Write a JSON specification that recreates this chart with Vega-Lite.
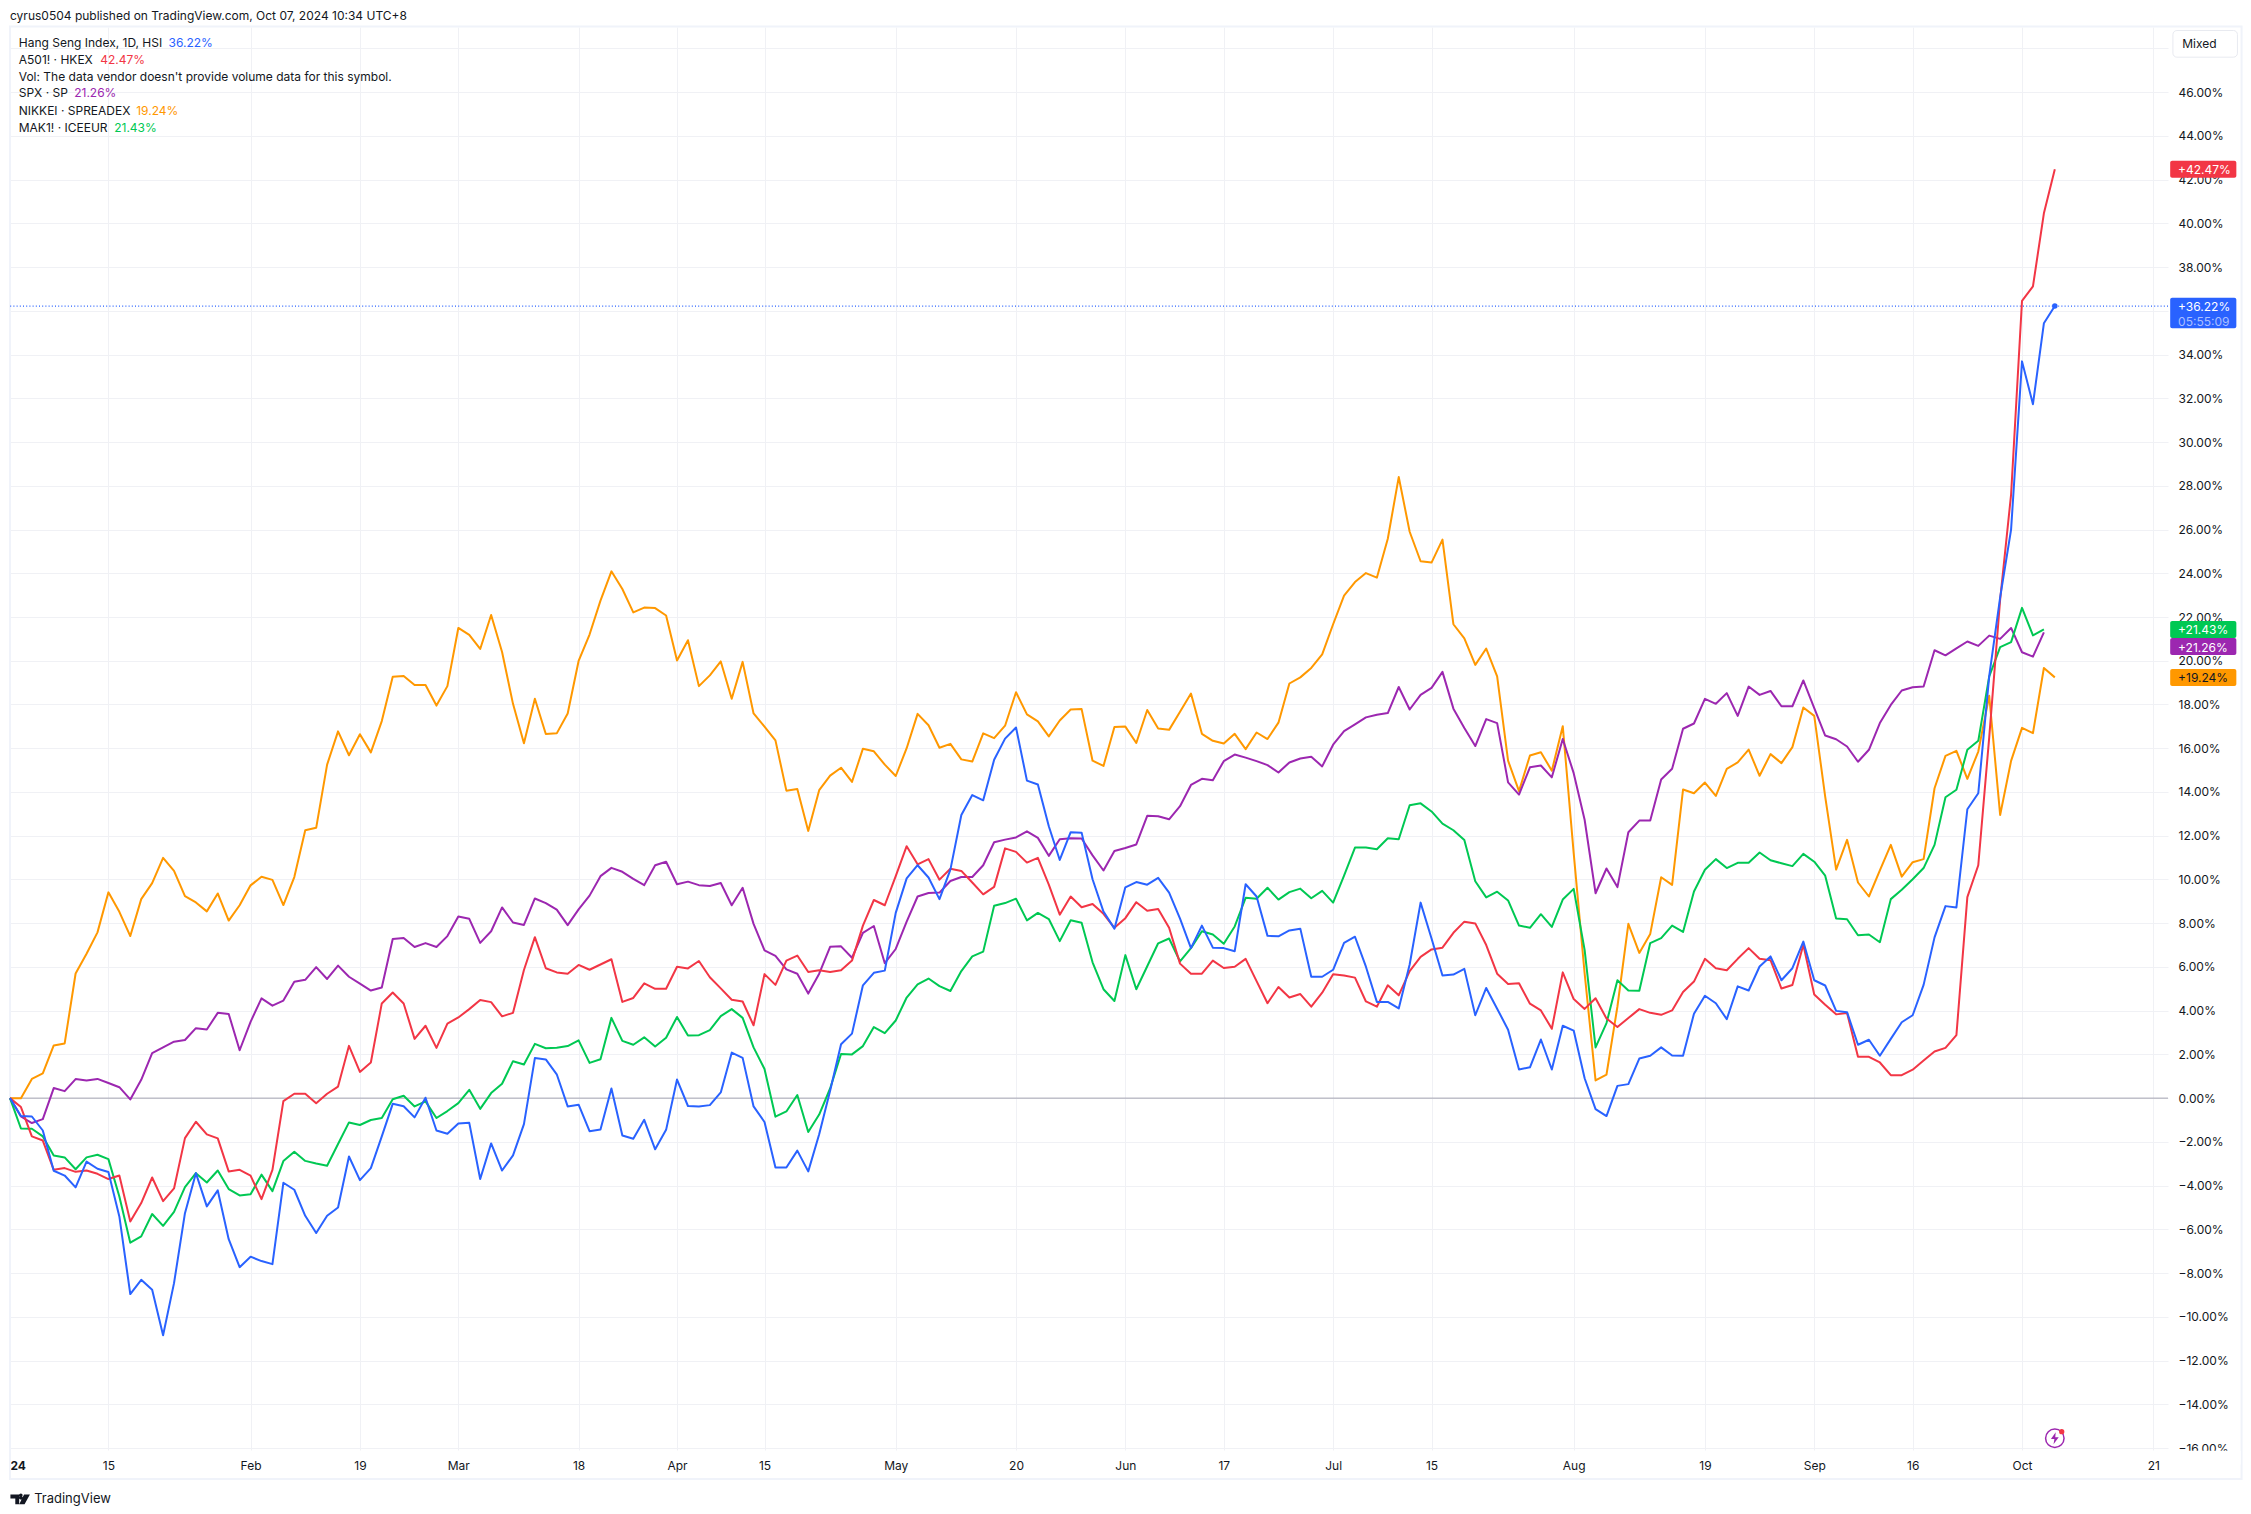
{
  "$schema": "https://vega.github.io/schema/vega-lite/v6.json",
  "autosize": {"type": "none", "contains": "content"},
  "padding": {"left": 10, "top": 27, "right": 83, "bottom": 64},
  "width": 2158,
  "height": 1423,
  "background": "white",
  "data": {"values": [{}]},
  "config": {
    "font": "Inter",
    "view": {"stroke": null},
    "text": {"font": "Inter", "fontSize": 12, "color": "#131722", "align": "left", "baseline": "middle"},
    "axis": {"title": null}
  },
  "datasets": {
    "closes": [
      {"bar":0,"HSI":0,"A501!":0,"SPX":0,"NIKKEI":0,"MAK1!":0},
      {"bar":1,"HSI":-0.82,"A501!":-0.41,"SPX":-0.84,"NIKKEI":0,"MAK1!":-1.39},
      {"bar":2,"HSI":-0.84,"A501!":-1.75,"SPX":-1.14,"NIKKEI":0.88,"MAK1!":-1.4},
      {"bar":3,"HSI":-1.48,"A501!":-1.94,"SPX":-0.96,"NIKKEI":1.13,"MAK1!":-1.75},
      {"bar":4,"HSI":-3.32,"A501!":-3.28,"SPX":0.46,"NIKKEI":2.41,"MAK1!":-2.62},
      {"bar":5,"HSI":-3.54,"A501!":-3.2,"SPX":0.32,"NIKKEI":2.5,"MAK1!":-2.71},
      {"bar":6,"HSI":-4.08,"A501!":-3.37,"SPX":0.87,"NIKKEI":5.7,"MAK1!":-3.25},
      {"bar":7,"HSI":-2.9,"A501!":-3.31,"SPX":0.81,"NIKKEI":6.6,"MAK1!":-2.71},
      {"bar":8,"HSI":-3.23,"A501!":-3.46,"SPX":0.88,"NIKKEI":7.58,"MAK1!":-2.59},
      {"bar":9,"HSI":-3.38,"A501!":-3.7,"SPX":0.69,"NIKKEI":9.41,"MAK1!":-2.79},
      {"bar":10,"HSI":-5.41,"A501!":-3.54,"SPX":0.5,"NIKKEI":8.52,"MAK1!":-4.5},
      {"bar":11,"HSI":-8.96,"A501!":-5.64,"SPX":-0.06,"NIKKEI":7.41,"MAK1!":-6.61},
      {"bar":12,"HSI":-8.31,"A501!":-4.8,"SPX":0.84,"NIKKEI":9.1,"MAK1!":-6.32},
      {"bar":13,"HSI":-8.76,"A501!":-3.63,"SPX":2.06,"NIKKEI":9.83,"MAK1!":-5.3},
      {"bar":14,"HSI":-10.84,"A501!":-4.71,"SPX":2.32,"NIKKEI":10.99,"MAK1!":-5.84},
      {"bar":15,"HSI":-8.46,"A501!":-4.13,"SPX":2.58,"NIKKEI":10.39,"MAK1!":-5.2},
      {"bar":16,"HSI":-5.26,"A501!":-1.83,"SPX":2.66,"NIKKEI":9.24,"MAK1!":-4.07},
      {"bar":17,"HSI":-3.43,"A501!":-1.08,"SPX":3.2,"NIKKEI":8.95,"MAK1!":-3.43},
      {"bar":18,"HSI":-4.95,"A501!":-1.66,"SPX":3.14,"NIKKEI":8.54,"MAK1!":-3.86},
      {"bar":19,"HSI":-4.22,"A501!":-1.84,"SPX":3.9,"NIKKEI":9.36,"MAK1!":-3.31},
      {"bar":20,"HSI":-6.45,"A501!":-3.35,"SPX":3.85,"NIKKEI":8.12,"MAK1!":-4.16},
      {"bar":21,"HSI":-7.73,"A501!":-3.28,"SPX":2.19,"NIKKEI":8.82,"MAK1!":-4.45},
      {"bar":22,"HSI":-7.25,"A501!":-3.54,"SPX":3.49,"NIKKEI":9.73,"MAK1!":-4.4},
      {"bar":23,"HSI":-7.45,"A501!":-4.62,"SPX":4.56,"NIKKEI":10.12,"MAK1!":-3.5},
      {"bar":24,"HSI":-7.59,"A501!":-3.28,"SPX":4.23,"NIKKEI":9.98,"MAK1!":-4.25},
      {"bar":25,"HSI":-3.87,"A501!":-0.14,"SPX":4.46,"NIKKEI":8.83,"MAK1!":-2.88},
      {"bar":26,"HSI":-4.19,"A501!":0.2,"SPX":5.32,"NIKKEI":10.11,"MAK1!":-2.45},
      {"bar":27,"HSI":-5.38,"A501!":0.2,"SPX":5.41,"NIKKEI":12.25,"MAK1!":-2.87},
      {"bar":28,"HSI":-6.17,"A501!":-0.23,"SPX":5.99,"NIKKEI":12.36,"MAK1!":-2.99},
      {"bar":29,"HSI":-5.38,"A501!":0.2,"SPX":5.45,"NIKKEI":15.25,"MAK1!":-3.09},
      {"bar":30,"HSI":-5,"A501!":0.53,"SPX":6.06,"NIKKEI":16.77,"MAK1!":-2.1},
      {"bar":31,"HSI":-2.67,"A501!":2.39,"SPX":5.55,"NIKKEI":15.68,"MAK1!":-1.11},
      {"bar":32,"HSI":-3.75,"A501!":1.2,"SPX":5.24,"NIKKEI":16.64,"MAK1!":-1.23},
      {"bar":33,"HSI":-3.2,"A501!":1.63,"SPX":4.92,"NIKKEI":15.81,"MAK1!":-1},
      {"bar":34,"HSI":-1.75,"A501!":4.33,"SPX":5.06,"NIKKEI":17.24,"MAK1!":-0.91},
      {"bar":35,"HSI":-0.26,"A501!":4.83,"SPX":7.28,"NIKKEI":19.27,"MAK1!":-0.05},
      {"bar":36,"HSI":-0.37,"A501!":4.33,"SPX":7.32,"NIKKEI":19.3,"MAK1!":0.11},
      {"bar":37,"HSI":-0.88,"A501!":2.71,"SPX":6.91,"NIKKEI":18.89,"MAK1!":-0.38},
      {"bar":38,"HSI":0.02,"A501!":3.31,"SPX":7.09,"NIKKEI":18.89,"MAK1!":-0.15},
      {"bar":39,"HSI":-1.48,"A501!":2.3,"SPX":6.91,"NIKKEI":17.95,"MAK1!":-0.91},
      {"bar":40,"HSI":-1.63,"A501!":3.41,"SPX":7.41,"NIKKEI":18.84,"MAK1!":-0.59},
      {"bar":41,"HSI":-1.16,"A501!":3.69,"SPX":8.31,"NIKKEI":21.5,"MAK1!":-0.23},
      {"bar":42,"HSI":-1.13,"A501!":4.07,"SPX":8.2,"NIKKEI":21.18,"MAK1!":0.38},
      {"bar":43,"HSI":-3.7,"A501!":4.49,"SPX":7.1,"NIKKEI":20.54,"MAK1!":-0.49},
      {"bar":44,"HSI":-2.07,"A501!":4.39,"SPX":7.63,"NIKKEI":22.09,"MAK1!":0.23},
      {"bar":45,"HSI":-3.31,"A501!":3.74,"SPX":8.72,"NIKKEI":20.4,"MAK1!":0.66},
      {"bar":46,"HSI":-2.62,"A501!":3.9,"SPX":8.03,"NIKKEI":18.03,"MAK1!":1.69},
      {"bar":47,"HSI":-1.19,"A501!":5.86,"SPX":7.92,"NIKKEI":16.23,"MAK1!":1.54},
      {"bar":48,"HSI":1.83,"A501!":7.36,"SPX":9.13,"NIKKEI":18.26,"MAK1!":2.48},
      {"bar":49,"HSI":1.77,"A501!":5.94,"SPX":8.92,"NIKKEI":16.65,"MAK1!":2.28},
      {"bar":50,"HSI":1.09,"A501!":5.75,"SPX":8.62,"NIKKEI":16.68,"MAK1!":2.3},
      {"bar":51,"HSI":-0.38,"A501!":5.69,"SPX":7.91,"NIKKEI":17.59,"MAK1!":2.38},
      {"bar":52,"HSI":-0.3,"A501!":6.09,"SPX":8.63,"NIKKEI":19.99,"MAK1!":2.64},
      {"bar":53,"HSI":-1.51,"A501!":5.87,"SPX":9.26,"NIKKEI":21.2,"MAK1!":1.61},
      {"bar":54,"HSI":-1.43,"A501!":6.11,"SPX":10.15,"NIKKEI":22.75,"MAK1!":1.78},
      {"bar":55,"HSI":0.44,"A501!":6.35,"SPX":10.53,"NIKKEI":24.09,"MAK1!":3.67},
      {"bar":56,"HSI":-1.71,"A501!":4.4,"SPX":10.35,"NIKKEI":23.28,"MAK1!":2.62},
      {"bar":57,"HSI":-1.86,"A501!":4.58,"SPX":10.03,"NIKKEI":22.21,"MAK1!":2.44},
      {"bar":58,"HSI":-0.99,"A501!":5.25,"SPX":9.74,"NIKKEI":22.43,"MAK1!":2.78},
      {"bar":59,"HSI":-2.34,"A501!":5,"SPX":10.65,"NIKKEI":22.41,"MAK1!":2.36},
      {"bar":60,"HSI":-1.45,"A501!":5,"SPX":10.81,"NIKKEI":22.07,"MAK1!":2.76},
      {"bar":61,"HSI":0.85,"A501!":6.01,"SPX":9.78,"NIKKEI":20.01,"MAK1!":3.71},
      {"bar":62,"HSI":-0.36,"A501!":5.93,"SPX":9.9,"NIKKEI":20.94,"MAK1!":2.86},
      {"bar":63,"HSI":-0.38,"A501!":6.27,"SPX":9.74,"NIKKEI":18.84,"MAK1!":2.88},
      {"bar":64,"HSI":-0.32,"A501!":5.53,"SPX":9.7,"NIKKEI":19.33,"MAK1!":3.11},
      {"bar":65,"HSI":0.26,"A501!":5.02,"SPX":9.84,"NIKKEI":19.97,"MAK1!":3.75},
      {"bar":66,"HSI":2.08,"A501!":4.5,"SPX":8.82,"NIKKEI":18.26,"MAK1!":4.07},
      {"bar":67,"HSI":1.84,"A501!":4.42,"SPX":9.62,"NIKKEI":19.95,"MAK1!":3.67},
      {"bar":68,"HSI":-0.38,"A501!":3.33,"SPX":7.97,"NIKKEI":17.59,"MAK1!":2.32},
      {"bar":69,"HSI":-1.09,"A501!":5.67,"SPX":6.76,"NIKKEI":16.99,"MAK1!":1.33},
      {"bar":70,"HSI":-3.17,"A501!":5.18,"SPX":6.5,"NIKKEI":16.36,"MAK1!":-0.85},
      {"bar":71,"HSI":-3.17,"A501!":6.29,"SPX":5.89,"NIKKEI":14.06,"MAK1!":-0.61},
      {"bar":72,"HSI":-2.4,"A501!":6.52,"SPX":5.69,"NIKKEI":14.14,"MAK1!":0.14},
      {"bar":73,"HSI":-3.35,"A501!":5.77,"SPX":4.78,"NIKKEI":12.22,"MAK1!":-1.55},
      {"bar":74,"HSI":-1.65,"A501!":5.85,"SPX":5.69,"NIKKEI":14.08,"MAK1!":-0.75},
      {"bar":75,"HSI":0.34,"A501!":5.77,"SPX":6.92,"NIKKEI":14.75,"MAK1!":0.44},
      {"bar":76,"HSI":2.46,"A501!":5.85,"SPX":6.94,"NIKKEI":15.11,"MAK1!":2.02},
      {"bar":77,"HSI":2.95,"A501!":6.29,"SPX":6.42,"NIKKEI":14.46,"MAK1!":2},
      {"bar":78,"HSI":5.16,"A501!":7.89,"SPX":7.56,"NIKKEI":15.98,"MAK1!":2.38},
      {"bar":79,"HSI":5.73,"A501!":9.06,"SPX":7.87,"NIKKEI":15.86,"MAK1!":3.25},
      {"bar":80,"HSI":5.83,"A501!":8.82,"SPX":6.17,"NIKKEI":15.25,"MAK1!":2.97},
      {"bar":81,"HSI":8.47,"A501!":10.15,"SPX":6.82,"NIKKEI":14.73,"MAK1!":3.55},
      {"bar":82,"HSI":10.05,"A501!":11.52,"SPX":8.07,"NIKKEI":16,"MAK1!":4.6},
      {"bar":83,"HSI":10.65,"A501!":10.69,"SPX":9.22,"NIKKEI":17.57,"MAK1!":5.2},
      {"bar":84,"HSI":10.09,"A501!":10.93,"SPX":9.38,"NIKKEI":17.05,"MAK1!":5.47},
      {"bar":85,"HSI":9.1,"A501!":9.99,"SPX":9.4,"NIKKEI":16.02,"MAK1!":5.12},
      {"bar":86,"HSI":10.45,"A501!":10.49,"SPX":9.93,"NIKKEI":16.2,"MAK1!":4.9},
      {"bar":87,"HSI":12.95,"A501!":10.39,"SPX":10.11,"NIKKEI":15.49,"MAK1!":5.81},
      {"bar":88,"HSI":13.86,"A501!":9.86,"SPX":10.11,"NIKKEI":15.39,"MAK1!":6.48},
      {"bar":89,"HSI":13.62,"A501!":9.32,"SPX":10.65,"NIKKEI":16.68,"MAK1!":6.7},
      {"bar":90,"HSI":15.47,"A501!":9.66,"SPX":11.7,"NIKKEI":16.46,"MAK1!":8.8},
      {"bar":91,"HSI":16.44,"A501!":11.42,"SPX":11.82,"NIKKEI":17.03,"MAK1!":8.92},
      {"bar":92,"HSI":16.95,"A501!":11.26,"SPX":11.92,"NIKKEI":18.56,"MAK1!":9.12},
      {"bar":93,"HSI":14.52,"A501!":10.77,"SPX":12.2,"NIKKEI":17.55,"MAK1!":8.13},
      {"bar":94,"HSI":14.34,"A501!":10.99,"SPX":11.9,"NIKKEI":17.23,"MAK1!":8.47},
      {"bar":95,"HSI":12.43,"A501!":9.76,"SPX":11.08,"NIKKEI":16.54,"MAK1!":8.19},
      {"bar":96,"HSI":10.89,"A501!":8.39,"SPX":11.84,"NIKKEI":17.27,"MAK1!":7.18},
      {"bar":97,"HSI":12.16,"A501!":9.22,"SPX":11.88,"NIKKEI":17.77,"MAK1!":8.13},
      {"bar":98,"HSI":12.14,"A501!":8.73,"SPX":11.87,"NIKKEI":17.79,"MAK1!":8.02},
      {"bar":99,"HSI":10.01,"A501!":8.88,"SPX":11.1,"NIKKEI":15.43,"MAK1!":6.21},
      {"bar":100,"HSI":8.53,"A501!":8.43,"SPX":10.41,"NIKKEI":15.19,"MAK1!":4.98},
      {"bar":101,"HSI":7.75,"A501!":7.79,"SPX":11.3,"NIKKEI":16.97,"MAK1!":4.44},
      {"bar":102,"HSI":9.64,"A501!":8.23,"SPX":11.44,"NIKKEI":16.99,"MAK1!":6.54},
      {"bar":103,"HSI":9.88,"A501!":8.96,"SPX":11.6,"NIKKEI":16.24,"MAK1!":4.98},
      {"bar":104,"HSI":9.76,"A501!":8.57,"SPX":12.91,"NIKKEI":17.75,"MAK1!":6.03},
      {"bar":105,"HSI":10.07,"A501!":8.65,"SPX":12.89,"NIKKEI":16.9,"MAK1!":7.08},
      {"bar":106,"HSI":9.4,"A501!":7.79,"SPX":12.75,"NIKKEI":16.84,"MAK1!":7.3},
      {"bar":107,"HSI":8.21,"A501!":6.15,"SPX":13.35,"NIKKEI":17.67,"MAK1!":6.25},
      {"bar":108,"HSI":6.86,"A501!":5.69,"SPX":14.32,"NIKKEI":18.5,"MAK1!":6.86},
      {"bar":109,"HSI":7.89,"A501!":5.69,"SPX":14.6,"NIKKEI":16.66,"MAK1!":7.63},
      {"bar":110,"HSI":6.88,"A501!":6.29,"SPX":14.54,"NIKKEI":16.34,"MAK1!":7.48},
      {"bar":111,"HSI":6.86,"A501!":5.95,"SPX":15.41,"NIKKEI":16.22,"MAK1!":7.06},
      {"bar":112,"HSI":6.72,"A501!":6.01,"SPX":15.71,"NIKKEI":16.66,"MAK1!":7.85},
      {"bar":113,"HSI":9.78,"A501!":6.37,"SPX":15.57,"NIKKEI":15.96,"MAK1!":9.16},
      {"bar":114,"HSI":9.22,"A501!":5.35,"SPX":15.41,"NIKKEI":16.72,"MAK1!":9.12},
      {"bar":115,"HSI":7.42,"A501!":4.34,"SPX":15.23,"NIKKEI":16.42,"MAK1!":9.62},
      {"bar":116,"HSI":7.4,"A501!":5.08,"SPX":14.89,"NIKKEI":17.17,"MAK1!":9.08},
      {"bar":117,"HSI":7.67,"A501!":4.6,"SPX":15.35,"NIKKEI":18.96,"MAK1!":9.42},
      {"bar":118,"HSI":7.75,"A501!":4.76,"SPX":15.53,"NIKKEI":19.24,"MAK1!":9.58},
      {"bar":119,"HSI":5.55,"A501!":4.18,"SPX":15.61,"NIKKEI":19.67,"MAK1!":9.14},
      {"bar":120,"HSI":5.55,"A501!":4.82,"SPX":15.17,"NIKKEI":20.29,"MAK1!":9.48},
      {"bar":121,"HSI":5.87,"A501!":5.67,"SPX":16.16,"NIKKEI":21.67,"MAK1!":8.94},
      {"bar":122,"HSI":7.1,"A501!":5.61,"SPX":16.78,"NIKKEI":22.98,"MAK1!":10.17},
      {"bar":123,"HSI":7.38,"A501!":5.51,"SPX":17.09,"NIKKEI":23.6,"MAK1!":11.46},
      {"bar":124,"HSI":6.01,"A501!":4.42,"SPX":17.41,"NIKKEI":24.01,"MAK1!":11.46},
      {"bar":125,"HSI":4.4,"A501!":4.18,"SPX":17.53,"NIKKEI":23.8,"MAK1!":11.38},
      {"bar":126,"HSI":4.4,"A501!":5.16,"SPX":17.61,"NIKKEI":25.58,"MAK1!":11.88},
      {"bar":127,"HSI":4.1,"A501!":4.7,"SPX":18.8,"NIKKEI":28.4,"MAK1!":11.84},
      {"bar":128,"HSI":6.11,"A501!":5.81,"SPX":17.77,"NIKKEI":25.9,"MAK1!":13.39},
      {"bar":129,"HSI":8.94,"A501!":6.46,"SPX":18.44,"NIKKEI":24.55,"MAK1!":13.48},
      {"bar":130,"HSI":7.3,"A501!":6.8,"SPX":18.76,"NIKKEI":24.49,"MAK1!":13.11},
      {"bar":131,"HSI":5.61,"A501!":6.88,"SPX":19.49,"NIKKEI":25.54,"MAK1!":12.55},
      {"bar":132,"HSI":5.65,"A501!":7.56,"SPX":17.81,"NIKKEI":21.67,"MAK1!":12.25},
      {"bar":133,"HSI":5.91,"A501!":8.07,"SPX":16.93,"NIKKEI":21.02,"MAK1!":11.8},
      {"bar":134,"HSI":3.79,"A501!":7.99,"SPX":16.1,"NIKKEI":19.81,"MAK1!":9.92},
      {"bar":135,"HSI":5.04,"A501!":7,"SPX":17.33,"NIKKEI":20.56,"MAK1!":9.18},
      {"bar":136,"HSI":4.09,"A501!":5.69,"SPX":17.15,"NIKKEI":19.29,"MAK1!":9.44},
      {"bar":137,"HSI":3.13,"A501!":5.22,"SPX":14.44,"NIKKEI":15.43,"MAK1!":9.04},
      {"bar":138,"HSI":1.31,"A501!":5.25,"SPX":13.88,"NIKKEI":14.04,"MAK1!":7.89},
      {"bar":139,"HSI":1.41,"A501!":4.32,"SPX":15.13,"NIKKEI":15.67,"MAK1!":7.79},
      {"bar":140,"HSI":2.68,"A501!":4.01,"SPX":15.21,"NIKKEI":15.82,"MAK1!":8.41},
      {"bar":141,"HSI":1.31,"A501!":3.17,"SPX":14.67,"NIKKEI":14.97,"MAK1!":7.83},
      {"bar":142,"HSI":3.31,"A501!":5.75,"SPX":16.42,"NIKKEI":17.01,"MAK1!":9.08},
      {"bar":143,"HSI":3.09,"A501!":4.53,"SPX":14.86,"NIKKEI":11.2,"MAK1!":9.57},
      {"bar":144,"HSI":0.91,"A501!":4.08,"SPX":12.73,"NIKKEI":5.71,"MAK1!":6.78},
      {"bar":145,"HSI":-0.5,"A501!":4.57,"SPX":9.37,"NIKKEI":0.81,"MAK1!":2.32},
      {"bar":146,"HSI":-0.82,"A501!":3.64,"SPX":10.5,"NIKKEI":1.08,"MAK1!":3.43},
      {"bar":147,"HSI":0.56,"A501!":3.25,"SPX":9.65,"NIKKEI":4.19,"MAK1!":5.39},
      {"bar":148,"HSI":0.64,"A501!":3.66,"SPX":12.16,"NIKKEI":7.97,"MAK1!":4.92},
      {"bar":149,"HSI":1.81,"A501!":4.07,"SPX":12.69,"NIKKEI":6.64,"MAK1!":4.91},
      {"bar":150,"HSI":1.94,"A501!":3.9,"SPX":12.69,"NIKKEI":7.51,"MAK1!":7.09},
      {"bar":151,"HSI":2.32,"A501!":3.81,"SPX":14.57,"NIKKEI":10.1,"MAK1!":7.32},
      {"bar":152,"HSI":1.95,"A501!":4.01,"SPX":15.06,"NIKKEI":9.75,"MAK1!":7.89},
      {"bar":153,"HSI":1.94,"A501!":4.85,"SPX":16.89,"NIKKEI":14.11,"MAK1!":7.6},
      {"bar":154,"HSI":3.86,"A501!":5.33,"SPX":17.13,"NIKKEI":13.94,"MAK1!":9.45},
      {"bar":155,"HSI":4.68,"A501!":6.37,"SPX":18.26,"NIKKEI":14.43,"MAK1!":10.44},
      {"bar":156,"HSI":4.34,"A501!":5.94,"SPX":18.03,"NIKKEI":13.82,"MAK1!":10.93},
      {"bar":157,"HSI":3.61,"A501!":5.85,"SPX":18.52,"NIKKEI":15.06,"MAK1!":10.52},
      {"bar":158,"HSI":5.11,"A501!":6.37,"SPX":17.48,"NIKKEI":15.35,"MAK1!":10.76},
      {"bar":159,"HSI":4.92,"A501!":6.86,"SPX":18.82,"NIKKEI":15.94,"MAK1!":10.76},
      {"bar":160,"HSI":6.02,"A501!":6.37,"SPX":18.44,"NIKKEI":14.74,"MAK1!":11.23},
      {"bar":161,"HSI":6.48,"A501!":6.31,"SPX":18.62,"NIKKEI":15.73,"MAK1!":10.88},
      {"bar":162,"HSI":5.39,"A501!":5.01,"SPX":17.92,"NIKKEI":15.32,"MAK1!":10.74},
      {"bar":163,"HSI":5.94,"A501!":5.17,"SPX":17.92,"NIKKEI":16.05,"MAK1!":10.61},
      {"bar":164,"HSI":7.16,"A501!":7.01,"SPX":19.1,"NIKKEI":17.86,"MAK1!":11.17},
      {"bar":165,"HSI":5.39,"A501!":4.74,"SPX":17.83,"NIKKEI":17.48,"MAK1!":10.81},
      {"bar":166,"HSI":5.15,"A501!":4.27,"SPX":16.58,"NIKKEI":13.79,"MAK1!":10.17},
      {"bar":167,"HSI":3.99,"A501!":3.83,"SPX":16.41,"NIKKEI":10.45,"MAK1!":8.21},
      {"bar":168,"HSI":3.93,"A501!":3.89,"SPX":16.08,"NIKKEI":11.81,"MAK1!":8.18},
      {"bar":169,"HSI":2.44,"A501!":1.89,"SPX":15.38,"NIKKEI":9.86,"MAK1!":7.45},
      {"bar":170,"HSI":2.67,"A501!":1.89,"SPX":15.93,"NIKKEI":9.22,"MAK1!":7.48},
      {"bar":171,"HSI":1.94,"A501!":1.63,"SPX":17.15,"NIKKEI":10.41,"MAK1!":7.13},
      {"bar":172,"HSI":2.71,"A501!":1.05,"SPX":17.98,"NIKKEI":11.58,"MAK1!":9.1},
      {"bar":173,"HSI":3.47,"A501!":1.05,"SPX":18.64,"NIKKEI":10.13,"MAK1!":9.53},
      {"bar":174,"HSI":3.79,"A501!":1.3,"SPX":18.79,"NIKKEI":10.79,"MAK1!":10.01},
      {"bar":175,"HSI":5.18,"A501!":1.72,"SPX":18.82,"NIKKEI":10.93,"MAK1!":10.52},
      {"bar":176,"HSI":7.35,"A501!":2.13,"SPX":20.48,"NIKKEI":14.17,"MAK1!":11.58},
      {"bar":177,"HSI":8.78,"A501!":2.3,"SPX":20.25,"NIKKEI":15.65,"MAK1!":13.76},
      {"bar":178,"HSI":8.72,"A501!":2.88,"SPX":20.57,"NIKKEI":15.88,"MAK1!":14.1},
      {"bar":179,"HSI":13.21,"A501!":9.19,"SPX":20.88,"NIKKEI":14.6,"MAK1!":15.93},
      {"bar":180,"HSI":13.94,"A501!":10.65,"SPX":20.68,"NIKKEI":15.85,"MAK1!":16.34},
      {"bar":181,"HSI":19.3,"A501!":16.5,"SPX":21.15,"NIKKEI":18.4,"MAK1!":19.28},
      {"bar":182,"HSI":22.9,"A501!":22.8,"SPX":21,"NIKKEI":12.95,"MAK1!":20.62},
      {"bar":183,"HSI":26,"A501!":27.6,"SPX":21.5,"NIKKEI":15.42,"MAK1!":20.85},
      {"bar":184,"HSI":33.69,"A501!":36.46,"SPX":20.39,"NIKKEI":16.93,"MAK1!":22.42},
      {"bar":185,"HSI":31.73,"A501!":37.12,"SPX":20.19,"NIKKEI":16.69,"MAK1!":21.16},
      {"bar":186,"HSI":35.43,"A501!":40.46,"SPX":21.3,"NIKKEI":19.67,"MAK1!":21.43},
      {"bar":187,"HSI":36.22,"A501!":42.47,"NIKKEI":19.24}
    ],
    "tags": [
      {"series":"A501!","label":"+42.47%","tag":42.47},
      {"series":"MAK1!","label":"+21.43%","tag":21.43},
      {"series":"SPX","label":"+21.26%","tag":20.65},
      {"series":"NIKKEI","label":"+19.24%","tag":19.24}
    ]
  },
  "layer": [
    {
      "mark": {"type": "rect", "fill": null, "stroke": "#f0f3fa", "strokeWidth": 2},
      "encoding": {
        "x": {"datum": 0},
        "x2": {"datum": 204.08},
        "y": {"datum": 49.0},
        "y2": {"datum": -17.42}
      }
    },
    {
      "mark": {"type": "rule", "color": "#a3a3b2", "strokeWidth": 1},
      "encoding": {"y": {"datum": 0}}
    },
    {
      "mark": {"type": "rule", "color": "#2962ff", "strokeWidth": 1.2, "strokeDash": [1, 2.2]},
      "encoding": {"y": {"datum": 36.22}}
    },
    {
      "data": {"name": "closes"},
      "transform": [{"fold": ["NIKKEI", "SPX", "MAK1!", "A501!", "HSI"], "as": ["series", "pct"]}],
      "mark": {"type": "line", "strokeWidth": 2, "strokeJoin": "round"},
      "encoding": {
        "x": {
          "field": "bar",
          "type": "quantitative",
          "scale": {"domain": [0, 197.35], "nice": false, "zero": false},
          "axis": {
            "orient": "bottom",
            "values": [0, 9, 22, 32, 41, 52, 61, 69, 81, 92, 102, 111, 121, 130, 143, 155, 165, 174, 184, 196],
            "labelExpr": "['24','15','Feb','19','Mar','18','Apr','15','May','20','Jun','17','Jul','15','Aug','19','Sep','16','Oct','21'][indexof([0,9,22,32,41,52,61,69,81,92,102,111,121,130,143,155,165,174,184,196],datum.value)]",
            "labelFontWeight": {"condition": {"test": "datum.value == 0", "value": "bold"}, "value": "normal"},
            "labelFlush": true,
            "labelOverlap": false,
            "labelFont": "Inter",
            "labelFontSize": 12,
            "labelColor": "#131722",
            "labelPadding": 10,
            "domain": false,
            "ticks": false,
            "grid": true,
            "gridColor": "#f0f1f5",
            "gridWidth": 1,
            "zindex": 0
          }
        },
        "y": {
          "field": "pct",
          "type": "quantitative",
          "scale": {"domain": [-16.09, 48.98], "nice": false, "zero": false},
          "axis": {
            "orient": "right",
            "values": [-16, -14, -12, -10, -8, -6, -4, -2, 0, 2, 4, 6, 8, 10, 12, 14, 16, 18, 20, 22, 24, 26, 28, 30, 32, 34, 36, 38, 40, 42, 44, 46, 48],
            "labelExpr": "datum.value == 48 ? '' : (datum.value < 0 ? '\u2212' : '') + format(abs(datum.value), '.2f') + '%'",
            "labelAlign": "left",
            "labelOverlap": false,
            "labelFont": "Inter",
            "labelFontSize": 12,
            "labelColor": "#131722",
            "labelPadding": 10,
            "domain": false,
            "ticks": false,
            "grid": true,
            "gridColor": "#f0f1f5",
            "gridWidth": 1,
            "zindex": 0
          }
        },
        "color": {
          "field": "series",
          "type": "nominal",
          "scale": {
            "domain": ["HSI", "A501!", "SPX", "NIKKEI", "MAK1!"],
            "range": ["#2962ff", "#f23645", "#9c27b0", "#ff9800", "#00c853"]
          },
          "legend": null
        }
      }
    },
    {
      "mark": {"type": "point", "filled": true, "color": "#2962ff", "size": 30, "opacity": 1},
      "encoding": {"x": {"datum": 187}, "y": {"datum": 36.22}}
    },
    {
      "mark": {"type": "rect", "color": "white"},
      "encoding": {
        "x": {"datum": 197.6},
        "x2": {"datum": 204},
        "y": {"datum": -16.13},
        "y2": {"datum": -16.75}
      }
    },
    {
      "data": {"name": "tags"},
      "mark": {"type": "rect", "height": 17, "cornerRadius": 2},
      "encoding": {
        "x": {"datum": 197.55},
        "x2": {"datum": 203.6},
        "y": {"field": "tag", "type": "quantitative"},
        "color": {"field": "series", "type": "nominal", "legend": null}
      }
    },
    {
      "data": {"name": "tags"},
      "mark": {"type": "text", "dy": 1},
      "encoding": {
        "x": {"datum": 198.27},
        "y": {"field": "tag", "type": "quantitative"},
        "text": {"field": "label"},
        "color": {"condition": {"test": "datum.series === 'NIKKEI'", "value": "#131722"}, "value": "white"}
      }
    },
    {
      "mark": {"type": "rect", "color": "#2962ff", "cornerRadius": 2},
      "encoding": {
        "x": {"datum": 197.55},
        "x2": {"datum": 203.6},
        "y": {"datum": 36.6},
        "y2": {"datum": 35.2}
      }
    },
    {
      "mark": {"type": "text", "color": "white", "text": "+36.22%"},
      "encoding": {"x": {"datum": 198.27}, "y": {"datum": 36.17}}
    },
    {
      "mark": {"type": "text", "color": "#a9bfff", "text": "05:55:09"},
      "encoding": {"x": {"datum": 198.27}, "y": {"datum": 35.5}}
    },
    {
      "mark": {"type": "rect", "fill": "white", "stroke": "#e8eaf0", "strokeWidth": 1, "cornerRadius": 4},
      "encoding": {
        "x": {"datum": 197.8},
        "x2": {"datum": 203.7},
        "y": {"datum": 48.82},
        "y2": {"datum": 47.6}
      }
    },
    {
      "mark": {"type": "text", "text": "Mixed"},
      "encoding": {"x": {"datum": 198.65}, "y": {"datum": 48.22}}
    },
    {
      "mark": {"type": "point", "shape": "circle", "filled": false, "color": "#9c27b0", "size": 340, "strokeWidth": 1.5, "opacity": 1},
      "encoding": {"x": {"datum": 187}, "y": {"datum": -15.55}}
    },
    {
      "mark": {"type": "point", "shape": "M0.1 -0.7 L-0.45 0.1 H-0.05 L-0.15 0.7 L0.45 -0.1 H0.05 Z", "filled": true, "color": "#9c27b0", "size": 300, "opacity": 1},
      "encoding": {"x": {"datum": 187}, "y": {"datum": -15.55}}
    },
    {
      "mark": {"type": "point", "shape": "circle", "filled": true, "color": "#f23645", "size": 28, "opacity": 1},
      "encoding": {"x": {"datum": 187.63}, "y": {"datum": -15.25}}
    },
    {
      "mark": {"type": "text", "text": "cyrus0504 published on TradingView.com, Oct 07, 2024 10:34 UTC+8"},
      "encoding": {"x": {"datum": 0}, "y": {"datum": 49.5}}
    },
    {"mark": {"type": "text", "text": "Hang Seng Index, 1D, HSI"}, "encoding": {"x": {"datum": 0.8}, "y": {"datum": 48.27}}},
    {"mark": {"type": "text", "text": "36.22%", "color": "#2962ff"}, "encoding": {"x": {"datum": 14.5}, "y": {"datum": 48.27}}},
    {"mark": {"type": "text", "text": "A501! \u00b7 HKEX"}, "encoding": {"x": {"datum": 0.8}, "y": {"datum": 47.49}}},
    {"mark": {"type": "text", "text": "42.47%", "color": "#f23645"}, "encoding": {"x": {"datum": 8.25}, "y": {"datum": 47.49}}},
    {"mark": {"type": "text", "text": "Vol: The data vendor doesn't provide volume data for this symbol."}, "encoding": {"x": {"datum": 0.8}, "y": {"datum": 46.71}}},
    {"mark": {"type": "text", "text": "SPX \u00b7 SP"}, "encoding": {"x": {"datum": 0.8}, "y": {"datum": 45.94}}},
    {"mark": {"type": "text", "text": "21.26%", "color": "#9c27b0"}, "encoding": {"x": {"datum": 5.87}, "y": {"datum": 45.94}}},
    {"mark": {"type": "text", "text": "NIKKEI \u00b7 SPREADEX"}, "encoding": {"x": {"datum": 0.8}, "y": {"datum": 45.16}}},
    {"mark": {"type": "text", "text": "19.24%", "color": "#ff9800"}, "encoding": {"x": {"datum": 11.54}, "y": {"datum": 45.16}}},
    {"mark": {"type": "text", "text": "MAK1! \u00b7 ICEEUR"}, "encoding": {"x": {"datum": 0.8}, "y": {"datum": 44.38}}},
    {"mark": {"type": "text", "text": "21.43%", "color": "#00c853"}, "encoding": {"x": {"datum": 9.53}, "y": {"datum": 44.38}}},
    {
      "mark": {"type": "point", "shape": "M-1 -0.5 H-0.1 V0.5 H-0.5 V-0.1 H-1 Z M0.2 -0.3 A0.18 0.18 0 1 1 -0.06 -0.3 A0.18 0.18 0 1 1 0.2 -0.3 Z M0.4 -0.5 H1 L0.45 0.5 H-0.1 Z", "filled": true, "color": "#131722", "size": 380, "opacity": 1},
      "encoding": {"x": {"datum": 0.93}, "y": {"datum": -18.35}}
    },
    {
      "mark": {"type": "text", "text": "TradingView", "fontSize": 13},
      "encoding": {"x": {"datum": 2.21}, "y": {"datum": -18.35}}
    }
  ]
}
